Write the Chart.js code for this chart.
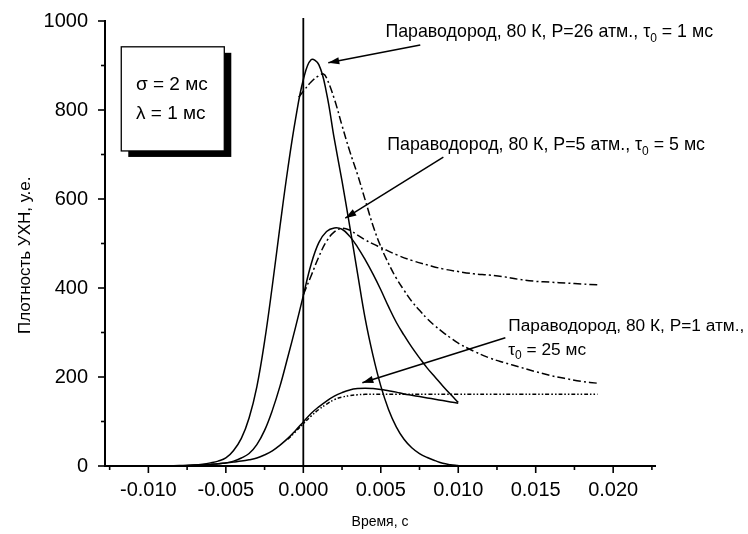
<!DOCTYPE html>
<html><head><meta charset="utf-8">
<script src="https://cdn.jsdelivr.net/npm/chart.js@4/dist/chart.umd.min.js"></script>
<style>html,body{margin:0;padding:0;background:#fff}#wrap{width:748px;height:534px}</style>
</head><body><div id="wrap"><canvas id="c" width="748" height="534"></canvas></div>
<script>
// ---- data (time in seconds, density in arbitrary units) ----
const timeModel = [-0.0125, -0.011, -0.009, -0.008, -0.007, -0.0065, -0.006, -0.0055, -0.005, -0.0045, -0.004, -0.0035, -0.003, -0.0025, -0.002, -0.0015, -0.001, -0.0005, 0, 0.0005, 0.001, 0.0015, 0.002, 0.0025, 0.003, 0.0035, 0.004, 0.0045, 0.005, 0.0055, 0.006, 0.0065, 0.007, 0.0075, 0.008, 0.0085, 0.009, 0.0095, 0.010];
const model26atm = [0, 0, 0, 0, 2, 4, 7, 11, 18, 35, 62, 108, 178, 280, 405, 540, 668, 780, 868, 913, 902, 838, 735, 640, 538, 433, 330, 248, 180, 127, 88, 60, 41, 28, 19, 12, 6, 3, 1];
const model5atm = [0, 0, 0, 0, 1, 2, 3, 5, 7, 11, 18, 28, 48, 80, 125, 180, 245, 312, 383, 453, 502, 527, 535, 532, 516, 492, 463, 431, 396, 358, 323, 294, 267, 243, 220, 200, 180, 161, 143];
const model1atm = [0, 0, 0, 1, 2, 3, 4, 5, 7, 9, 11, 14, 18, 25, 34, 47, 62, 80, 99, 118, 133, 146, 157, 165, 171, 174, 175, 174, 172, 169, 166, 162, 159, 156, 153, 150, 147, 144, 141];

const timeExp26 = [-0.0003, 0, 0.0005, 0.001, 0.0013, 0.0015, 0.002, 0.0025, 0.003, 0.0035, 0.004, 0.0045, 0.005, 0.0055, 0.006, 0.0065, 0.007, 0.0075, 0.008, 0.0085, 0.009, 0.0095, 0.010, 0.011, 0.012, 0.013, 0.014, 0.015, 0.016, 0.017, 0.018, 0.019];
const exp26atm = [829, 842, 863, 877, 881, 872, 825, 765, 707, 655, 597, 540, 493, 455, 422, 395, 370, 350, 331, 315, 301, 288, 276, 258, 243, 232, 222, 212, 203, 196, 190, 186];
const timeExp5 = [0, 0.0005, 0.001, 0.0015, 0.002, 0.0025, 0.003, 0.0035, 0.004, 0.0045, 0.005, 0.006, 0.007, 0.008, 0.009, 0.010, 0.011, 0.012, 0.013, 0.014, 0.015, 0.016, 0.017, 0.018, 0.019];
const exp5atm = [385, 427, 470, 505, 526, 534, 530, 519, 508, 499, 491, 475, 462, 452, 443, 437, 432, 429, 425, 419, 415, 413, 411, 409, 407];
const timeExp1 = [-0.001, -0.0005, 0, 0.0005, 0.001, 0.0015, 0.002, 0.0025, 0.003, 0.0035, 0.004, 0.005, 0.006, 0.008, 0.010, 0.012, 0.014, 0.016, 0.019];
const exp1atm = [60, 77, 95, 112, 127, 139, 149, 155, 158, 160, 161, 161, 161, 161, 161, 161, 161, 161, 161];

const zeroLineTime = [0, 0];
const zeroLineValue = [0, 1007];

const xTickValues = [-0.010, -0.005, 0, 0.005, 0.010, 0.015, 0.020];
const xMinorTicks = [-0.0125, -0.0075, -0.0025, 0.0025, 0.0075, 0.0125, 0.0175, 0.0225];
const yTickValues = [0, 200, 400, 600, 800, 1000];
const yMinorTicks = [100, 300, 500, 700, 900];

const xTitle = 'Время, с';
const yTitle = 'Плотность УХН, у.е.';
const boxLines = ['σ = 2 мс', 'λ = 1 мс'];
const noteTexts = ['Параводород, 80 К, P=26 атм., τ_0 = 1 мс', 'Параводород, 80 К, P=5 атм., τ_0 = 5 мс', 'Параводород, 80 К, P=1 атм.,', 'τ_0 = 25 мс'];

// ---- build ----
const pts = (xs, ys) => xs.map((x, i) => ({x: x, y: ys[i]}));
const FONT = '"Liberation Sans", Arial, sans-serif';

function lineDs(data, dash, width) {
  return {data: data, borderColor: '#000', borderWidth: width || 1.5, borderDash: dash || [],
    pointRadius: 0, fill: false, tension: 0.4};
}

const datasets = [
  lineDs(pts(timeModel, model26atm)),
  lineDs(pts(timeExp26, exp26atm), [8, 3, 2, 3]),
  lineDs(pts(timeModel, model5atm)),
  lineDs(pts(timeExp5, exp5atm), [8, 3, 2, 3]),
  lineDs(pts(timeModel, model1atm)),
  lineDs(pts(timeExp1, exp1atm), [4, 2, 1.5, 2, 1.5, 2]),
  Object.assign(lineDs(pts(zeroLineTime, zeroLineValue), [], 1.8), {clip: false, tension: 0})
];

// annotations in data coordinates
const notes = [
  {text: [noteTexts[0]], size: 17.8, x: 0.0053, y: 975, from: [0.00755, 946], to: [0.00161, 906]},
  {text: [noteTexts[1]], size: 17.8, x: 0.00542, y: 721, from: [0.00904, 694], to: [0.00271, 557]},
  {text: [noteTexts[2], noteTexts[3]], size: 17.3, x: 0.01323, y: 315, from: [0.01304, 288], to: [0.00381, 187]}
];

function drawRich(ctx, str, x, y, size) {
  const parts = str.split('_0');
  let cx = x;
  parts.forEach((p, i) => {
    ctx.font = size + 'px ' + FONT;
    ctx.fillText(p, cx, y);
    cx += ctx.measureText(p).width;
    if (i < parts.length - 1) {
      ctx.font = Math.round(size * 0.68) + 'px ' + FONT;
      ctx.fillText('0', cx, y + size * 0.35);
      cx += ctx.measureText('0').width;
    }
  });
}

function arrow(ctx, x1, y1, x2, y2) {
  ctx.beginPath(); ctx.moveTo(x1, y1); ctx.lineTo(x2, y2); ctx.stroke();
  const a = Math.atan2(y2 - y1, x2 - x1), L = 11, W = 3.6;
  ctx.beginPath();
  ctx.moveTo(x2, y2);
  ctx.lineTo(x2 - L * Math.cos(a) + W * Math.sin(a), y2 - L * Math.sin(a) - W * Math.cos(a));
  ctx.lineTo(x2 - L * Math.cos(a) - W * Math.sin(a), y2 - L * Math.sin(a) + W * Math.cos(a));
  ctx.closePath(); ctx.fill();
}

const decor = {
  id: 'decor',
  afterDraw(chart) {
    const ctx = chart.ctx, xs = chart.scales.x, ys = chart.scales.y;
    const X = v => xs.getPixelForValue(v), Y = v => ys.getPixelForValue(v);
    const b = chart.chartArea;
    ctx.save();
    ctx.strokeStyle = '#000'; ctx.fillStyle = '#000'; ctx.lineWidth = 1.6;
    // tick marks
    xTickValues.forEach(v => { ctx.beginPath(); ctx.moveTo(X(v), b.bottom); ctx.lineTo(X(v), b.bottom + 7); ctx.stroke(); });
    xMinorTicks.forEach(v => { ctx.beginPath(); ctx.moveTo(X(v), b.bottom); ctx.lineTo(X(v), b.bottom + 4); ctx.stroke(); });
    yTickValues.forEach(v => { ctx.beginPath(); ctx.moveTo(b.left, Y(v)); ctx.lineTo(b.left - 7, Y(v)); ctx.stroke(); });
    yMinorTicks.forEach(v => { ctx.beginPath(); ctx.moveTo(b.left, Y(v)); ctx.lineTo(b.left - 4, Y(v)); ctx.stroke(); });

    // parameter box with shadow
    const bx1 = X(-0.01175), by1 = Y(942), bx2 = X(-0.0051), by2 = Y(708);
    ctx.fillStyle = '#000';
    ctx.fillRect(bx1 + 7, by1 + 6, bx2 - bx1, by2 - by1);
    ctx.fillStyle = '#fff';
    ctx.fillRect(bx1, by1, bx2 - bx1, by2 - by1);
    ctx.lineWidth = 1.3; ctx.strokeRect(bx1, by1, bx2 - bx1, by2 - by1);
    ctx.fillStyle = '#000'; ctx.textBaseline = 'middle'; ctx.textAlign = 'left';
    ctx.font = '19px ' + FONT;
    ctx.fillText(boxLines[0], X(-0.0108), Y(856));
    ctx.fillText(boxLines[1], X(-0.0108), Y(791));

    // annotations
    ctx.lineWidth = 1.5;
    notes.forEach(n => {
      n.text.forEach((t, i) => drawRich(ctx, t, X(n.x), Y(n.y) + i * 24, n.size));
      arrow(ctx, X(n.from[0]), Y(n.from[1]), X(n.to[0]), Y(n.to[1]));
    });
    ctx.restore();
  }
};

new Chart(document.getElementById('c'), {
  type: 'line',
  data: {datasets: datasets},
  options: {
    responsive: false, animation: false, devicePixelRatio: 1,
    layout: {padding: {left: 0, right: 93, top: 21, bottom: 0}},
    plugins: {legend: {display: false}, tooltip: {enabled: false}},
    scales: {
      x: {
        type: 'linear', position: 'bottom', min: -0.0128, max: 0.0227,
        grid: {display: false, drawTicks: false, tickLength: 0}, border: {display: true, color: '#000', width: 2},
        afterBuildTicks: s => { s.ticks = xTickValues.map(v => ({value: v})); },
        afterFit: s => { s.height = 68; s.paddingLeft = 0; s.paddingRight = 0; },
        ticks: {color: '#000', font: {family: FONT, size: 20}, padding: 12, maxRotation: 0, autoSkip: false,
          callback: v => Number(v).toFixed(3)},
        title: {display: true, text: xTitle, color: '#000', font: {family: FONT, size: 14}, padding: {top: 0, bottom: 3}}
      },
      y: {
        type: 'linear', min: 0, max: 1000,
        grid: {display: false, drawTicks: false, tickLength: 0}, border: {display: true, color: '#000', width: 2},
        afterBuildTicks: s => { s.ticks = yTickValues.map(v => ({value: v})); },
        afterFit: s => { s.width = 105; s.paddingTop = 0; s.paddingBottom = 0; },
        ticks: {color: '#000', font: {family: FONT, size: 20}, padding: 17, autoSkip: false,
          callback: v => String(v)},
        title: {display: true, text: yTitle + '\u00a0\u00a0\u00a0\u00a0\u00a0', color: '#000', font: {family: FONT, size: 17}, padding: {top: 15, bottom: 0}}
      }
    }
  },
  plugins: [decor]
});
</script></body></html>
